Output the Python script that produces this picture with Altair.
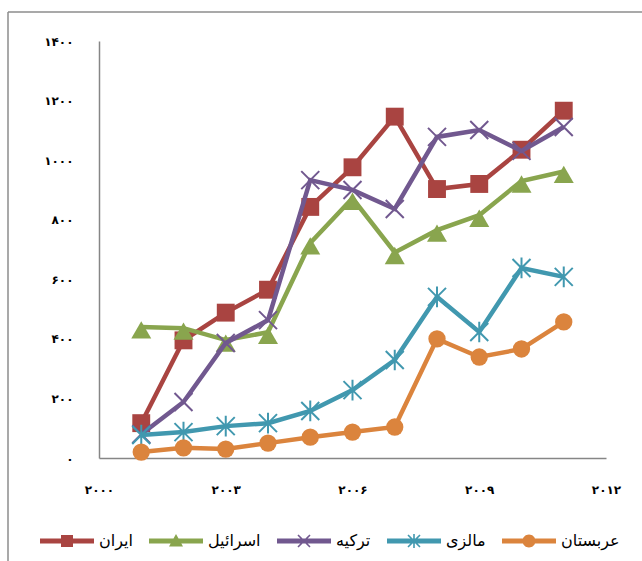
import altair as alt
import pandas as pd

# Annual values per country, 2001-2011
years = list(range(2001, 2012))
iran = [117, 395, 488, 565, 843, 976, 1146, 903, 920, 1035, 1166]
israel = [440, 436, 396, 422, 722, 872, 690, 765, 815, 930, 962]
turkey = [80, 188, 386, 463, 933, 900, 836, 1078, 1101, 1031, 1111]
malaysia = [77, 87, 107, 117, 158, 228, 329, 541, 423, 638, 608]
saudi = [20, 34, 30, 50, 70, 87, 104, 400, 339, 366, 457]

series_names = ["ایران", "اسرائیل", "ترکیه", "مالزی", "عربستان"]
series_values = [iran, israel, turkey, malaysia, saudi]
series_colors = ["#A94441", "#89A54E", "#71588F", "#4198AF", "#DB843D"]

x_ticks = [2000, 2003, 2006, 2009, 2012]
y_ticks = [0, 200, 400, 600, 800, 1000, 1200, 1400]

PERSIAN = str.maketrans("0123456789", "۰۱۲۳۴۵۶۷۸۹")


def persian_label_expr(values):
    expr = "''"
    for v in reversed(values):
        expr = f"datum.value == {v} ? '{str(v).translate(PERSIAN)}' : {expr}"
    return expr


def bar(p, q, t):
    """Filled polygon for a thin segment p->q of thickness t (clockwise)."""
    dx, dy = q[0] - p[0], q[1] - p[1]
    ln = (dx * dx + dy * dy) ** 0.5
    nx, ny = -dy / ln * t / 2, dx / ln * t / 2
    pts = [(p[0] + nx, p[1] + ny), (q[0] + nx, q[1] + ny),
           (q[0] - nx, q[1] - ny), (p[0] - nx, p[1] - ny)]
    area = sum(pts[i][0] * pts[(i + 1) % 4][1] - pts[(i + 1) % 4][0] * pts[i][1]
               for i in range(4))
    if area < 0:
        pts = pts[::-1]
    return "M" + "L".join(f"{x:.2f},{y:.2f}" for x, y in pts) + "Z"


# Legend glyphs: a thick line segment with the series marker in its middle
SEG = "M0,-2.4H54V2.4H0Z"
C = 27
legend_paths = [
    SEG + f"M{C-6},-6H{C+6}V6H{C-6}Z",
    SEG + f"M{C},-7L{C+7},5.5L{C-7},5.5Z",
    SEG + bar((C - 6, -6), (C + 6, 6), 1.6) + bar((C - 6, 6), (C + 6, -6), 1.6),
    SEG + bar((C - 6, -6), (C + 6, 6), 1.6) + bar((C - 6, 6), (C + 6, -6), 1.6)
    + bar((C, -7), (C, 7), 1.6),
    SEG + f"M{C-6.5},0A6.5,6.5 0 1,1 {C+6.5},0A6.5,6.5 0 1,1 {C-6.5},0Z",
]

X_MARK = "M-1,-1L1,1M-1,1L1,-1"
STAR_MARK = "M-1,-1L1,1M-1,1L1,-1M0,-1.15L0,1.15"
marker_styles = [
    dict(shape="square", filled=True, size=320),
    dict(shape="triangle-up", filled=True, size=400, yOffset=3),
    dict(shape=X_MARK, filled=False, size=324, strokeWidth=2),
    dict(shape=STAR_MARK, filled=False, size=324, strokeWidth=2),
    dict(shape="circle", filled=True, size=300),
]

rows = []
for name, vals in zip(series_names, series_values):
    for yr, v in zip(years, vals):
        rows.append({"year": yr, "value": v, "series": name})
df = pd.DataFrame(rows)

AXIS_GRAY = "#868686"
x_axis = alt.Axis(values=x_ticks, labelExpr=persian_label_expr(x_ticks), title=None,
                  ticks=False, grid=False, domainColor=AXIS_GRAY, domainWidth=1.5,
                  labelFont="DejaVu Sans", labelFontWeight="bold", labelFontSize=12,
                  labelColor="black", labelPadding=26, labelFlush=False)
y_axis = alt.Axis(values=y_ticks, labelExpr=persian_label_expr(y_ticks), title=None,
                  ticks=False, grid=False, domainColor=AXIS_GRAY, domainWidth=1.5,
                  labelFont="DejaVu Sans", labelFontWeight="bold", labelFontSize=12,
                  labelColor="black", labelPadding=26, labelFlush=False)

x_enc = alt.X("year:Q", scale=alt.Scale(domain=[2000, 2012], nice=False, zero=False), axis=x_axis)
y_enc = alt.Y("value:Q", scale=alt.Scale(domain=[0, 1400], nice=False), axis=y_axis)
color_scale = alt.Scale(domain=series_names, range=series_colors)
shape_scale = alt.Scale(domain=series_names, range=legend_paths)

legend = alt.Legend(
    title=None, orient="none", direction="horizontal",
    legendX=-67, legendY=492, symbolSize=4, labelOffset=51,
    columnPadding=8, labelFont="DejaVu Sans", labelFontSize=16,
    labelColor="black", labelLimit=200, symbolStrokeWidth=0, symbolOpacity=1,
)

# Each series drawn in turn: its line, then its markers on top
layers = []
for i, name in enumerate(series_names):
    base = alt.Chart(df).transform_filter(alt.FieldEqualPredicate(field="series", equal=name))
    line = base.mark_line(strokeWidth=4.5, color=series_colors[i]).encode(x=x_enc, y=y_enc)
    pts = base.mark_point(opacity=1, color=series_colors[i], **marker_styles[i]).encode(
        x=x_enc, y=y_enc)
    layers += [line, pts]

# Legend carrier: draws no marks, only supplies the line+marker legend glyphs
legend_layer = alt.Chart(df).transform_filter(alt.datum.value < 0).mark_point(
    filled=True, opacity=1, size=4
).encode(
    x=x_enc, y=y_enc,
    color=alt.Color("series:N", scale=color_scale, legend=legend),
    shape=alt.Shape("series:N", scale=shape_scale, legend=legend),
)

# Outer chart frame (left and top edges)
frame_data = alt.Data(values=[{}])
frame_left = alt.Chart(frame_data).mark_rule(color="#8C8C8C", strokeWidth=1.5).encode(
    x=alt.value(-91), y=alt.value(-29), y2=alt.value(530))
frame_top = alt.Chart(frame_data).mark_rule(color="#8C8C8C", strokeWidth=1.5).encode(
    x=alt.value(-91), x2=alt.value(560), y=alt.value(-29))

chart = alt.layer(frame_left, frame_top, *layers, legend_layer).properties(
    width=507, height=417,
    autosize=alt.AutoSizeParams(type="none"),
    padding={"left": 99, "top": 41, "right": 36, "bottom": 103},
    background="white",
).configure_view(strokeWidth=0)

chart.save("out.html", embed_options={"renderer": "svg", "actions": False})
